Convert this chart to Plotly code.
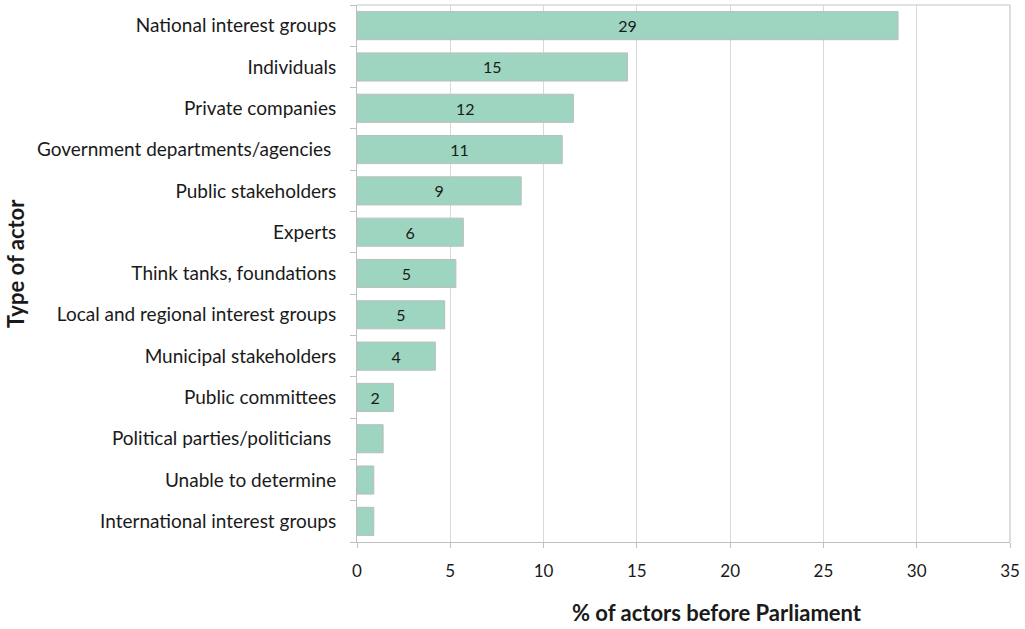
import plotly.graph_objects as go

categories = [
    "National interest groups",
    "Individuals",
    "Private companies",
    "Government departments/agencies ",
    "Public stakeholders",
    "Experts",
    "Think tanks, foundations",
    "Local and regional interest groups",
    "Municipal stakeholders",
    "Public committees",
    "Political parties/politicians ",
    "Unable to determine",
    "International interest groups",
]
values = [29.0, 14.5, 11.6, 11.0, 8.8, 5.7, 5.3, 4.7, 4.2, 1.95, 1.4, 0.9, 0.9]
value_labels = ["29", "15", "12", "11", "9", "6", "5", "5", "4", "2", "", "", ""]
x_ticks = [0, 5, 10, 15, 20, 25, 30, 35]

FONT = "Lato, 'Open Sans', sans-serif"
PLOT_L, PLOT_R, PLOT_T, PLOT_B = 357, 1010, 5, 542
PW, PH = PLOT_R - PLOT_L, PLOT_B - PLOT_T

fig = go.Figure(
    go.Bar(
        x=values,
        y=categories,
        orientation="h",
        text=value_labels,
        textposition="inside",
        insidetextanchor="middle",
        textangle=0,
        constraintext="none",
        textfont=dict(family=FONT, size=16, color="#1a1a1a"),
        marker=dict(color="#9DD5C0", line=dict(color="#BDBDBD", width=1)),
        width=0.68,
        hoverinfo="x+y",
    )
)

fig.update_layout(
    width=1025,
    height=629,
    margin=dict(l=PLOT_L, r=1025 - PLOT_R, t=PLOT_T, b=629 - PLOT_B),
    paper_bgcolor="white",
    plot_bgcolor="white",
    showlegend=False,
    font=dict(family=FONT, size=16, color="#1a1a1a"),
    xaxis=dict(
        range=[0, 35],
        tickvals=x_ticks,
        ticktext=[str(v) for v in x_ticks],
        showgrid=True,
        gridcolor="#D9D9D9",
        gridwidth=1,
        showline=True,
        linecolor="#BFBFBF",
        linewidth=1,
        mirror=False,
        ticks="outside",
        ticklen=5,
        tickcolor="#BFBFBF",
        ticklabelstandoff=9,
        tickfont=dict(family=FONT, size=17, color="#1a1a1a"),
        zeroline=False,
        automargin=False,
    ),
    yaxis=dict(
        categoryorder="array",
        categoryarray=categories[::-1],
        autorange=False,
        range=[-0.5, len(categories) - 0.5],
        showline=True,
        linecolor="#BFBFBF",
        linewidth=1,
        ticks="outside",
        tickson="boundaries",
        ticklen=6,
        tickcolor="#BFBFBF",
        ticklabelstandoff=16,
        tickfont=dict(family=FONT, size=19, color="#1a1a1a"),
        showgrid=False,
        automargin=False,
    ),
    shapes=[
        dict(type="line", xref="paper", yref="paper", x0=0, x1=1, y0=1, y1=1,
             line=dict(color="#D9D9D9", width=1.5)),
        dict(type="line", xref="paper", yref="paper", x0=1, x1=1, y0=0, y1=1,
             line=dict(color="#D0D0D0", width=1.5)),
    ],
    annotations=[
        dict(
            text="<b>Type of actor</b>",
            textangle=-90,
            xref="paper",
            yref="paper",
            x=(15 - PLOT_L) / PW,
            y=(PLOT_B - 264) / PH,
            xanchor="center",
            yanchor="middle",
            showarrow=False,
            font=dict(family=FONT, size=22, color="#1a1a1a"),
        ),
        dict(
            text="<b>% of actors before Parliament</b>",
            xref="paper",
            yref="paper",
            x=(717 - PLOT_L) / PW,
            y=(PLOT_B - 612) / PH,
            xanchor="center",
            yanchor="middle",
            showarrow=False,
            font=dict(family=FONT, size=22, color="#1a1a1a"),
        ),
    ],
)

fig.write_html(
    "out.html",
    config={"displayModeBar": False},
    post_script="document.body.style.margin='0px';document.body.style.padding='0px';",
)
